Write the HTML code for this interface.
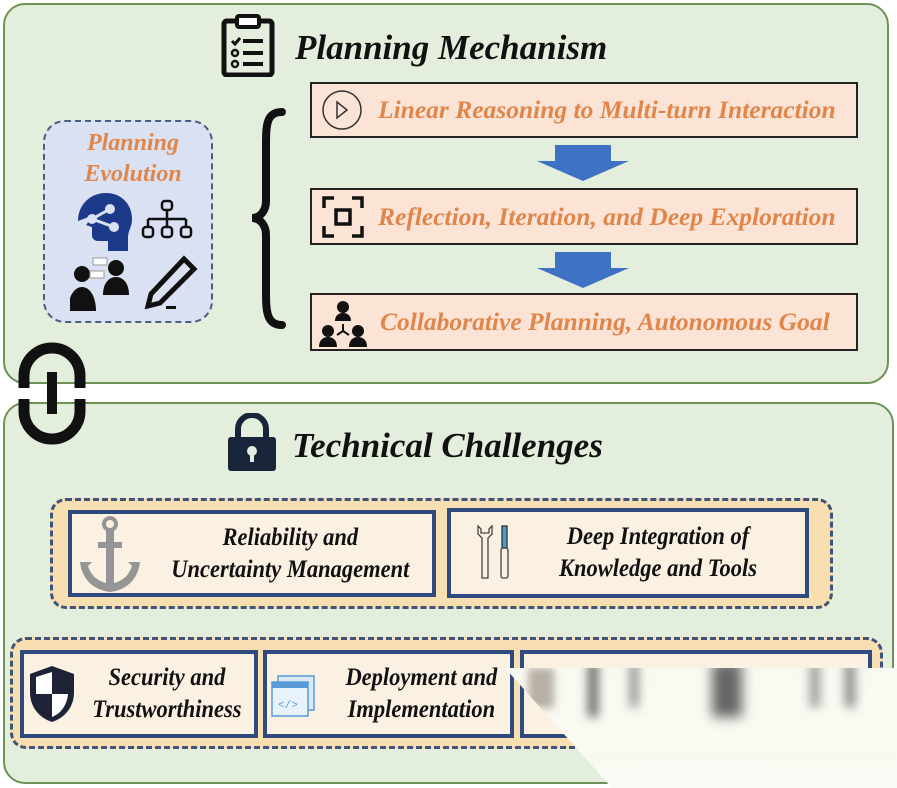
<!DOCTYPE html>
<html><head><meta charset="utf-8"><style>
*{margin:0;padding:0;box-sizing:border-box}
body{width:897px;height:788px;background:#fff;position:relative;overflow:hidden;font-family:"Liberation Serif",serif}
.a{position:absolute}
.panel{background:#e4eedc;border:2px solid #6f9257;border-radius:22px}
.pb{background:#fbe4d6;border:2px solid #222;color:#e0864a;font-style:italic;font-weight:bold;font-size:25.5px;display:flex;align-items:center;white-space:nowrap}
.grp{background:#f8dfb2;border:3px dashed #3e5478;border-radius:16px}
.tb{background:#fbf1e3;border:4px solid #2f4a7c;font-style:italic;font-weight:bold;font-size:25px;color:#111;text-align:center;line-height:32px;display:flex;align-items:center;justify-content:center;white-space:nowrap}
.t{display:inline-block;transform:scaleX(.9)}
h1{position:absolute;font-weight:bold;font-style:italic;font-size:35px;color:#111;white-space:nowrap}
</style></head><body>
<div class="a panel" style="left:3px;top:3px;width:886px;height:381px"></div>
<div class="a panel" style="left:3px;top:402px;width:891px;height:382px"></div>

<svg class="a" style="left:220px;top:13px" width="58" height="64" viewBox="0 0 58 64">
<rect x="4" y="8" width="48" height="54" rx="3" fill="none" stroke="#111" stroke-width="5"/>
<rect x="17" y="3" width="22" height="11" rx="2" fill="#fff" stroke="#111" stroke-width="4"/>
<path d="M12 28l3 3 5-6" stroke="#111" stroke-width="3" fill="none"/>
<rect x="23" y="26" width="20" height="4" fill="#111"/><circle cx="15" cy="40" r="3" fill="none" stroke="#111" stroke-width="2.5"/>
<rect x="23" y="38" width="20" height="4" fill="#111"/><circle cx="15" cy="51" r="3" fill="none" stroke="#111" stroke-width="2.5"/>
<rect x="23" y="49" width="20" height="4" fill="#111"/></svg>
<h1 style="left:295px;top:28px">Planning Mechanism</h1>

<div class="a" style="left:43px;top:120px;width:170px;height:203px;background:#d9e1f2;border:2px dashed #4a5e80;border-radius:22px"></div>
<div class="a" style="left:43px;top:128px;width:180px;text-align:center;color:#e0864a;font-style:italic;font-weight:bold;font-size:24px;line-height:31px">Planning<br>Evolution</div>
<svg class="a" style="left:70px;top:193px" width="130" height="120" viewBox="0 0 130 120">
<path d="M8 28c0-16 12-28 28-28s26 12 26 26c0 8-4 12-4 18v14h-20v-10h-10c-4 0-6-3-6-6v-8l-6-2 8-10z" fill="#1d3a8a"/>
<circle cx="22" cy="26" r="5" fill="#d9e1f2"/><circle cx="40" cy="16" r="5" fill="#d9e1f2"/><circle cx="44" cy="34" r="5" fill="#d9e1f2"/>
<path d="M22 26L40 16M22 26L44 34" stroke="#d9e1f2" stroke-width="3"/>
<g fill="none" stroke="#111" stroke-width="2.5"><rect x="92" y="8" width="10" height="9" rx="3"/><path d="M97 17v9M78 26h38M78 26v8M97 26v8M116 26v8"/><rect x="73" y="34" width="10" height="10" rx="3"/><rect x="92" y="34" width="10" height="10" rx="3"/><rect x="111" y="34" width="10" height="10" rx="3"/></g>
<circle cx="12" cy="81" r="8" fill="#111"/><path d="M-2 118c0-14 6-24 14-24s14 10 14 24z" fill="#111"/>
<circle cx="46" cy="75" r="8" fill="#111"/><path d="M33 102c0-12 6-18 13-18s13 6 13 18z" fill="#111"/>
<rect x="23" y="65" width="14" height="7" fill="#fff" stroke="#999"/><rect x="20" y="78" width="14" height="7" fill="#fff" stroke="#999"/>
<path d="M114 66l10 10-34 34-12 3 3-12z" fill="none" stroke="#111" stroke-width="5"/><rect x="96" y="113" width="10" height="3" fill="#111"/></svg>

<svg class="a" style="left:244px;top:106px" width="45" height="225" viewBox="0 0 45 225">
<path d="M38 6C22 6 22 20 22 40v55c0 10-6 17-14 17c8 0 14 7 14 17v55c0 20 0 35 16 35" fill="none" stroke="#111" stroke-width="8" stroke-linecap="round"/></svg>

<div class="a pb" style="left:310px;top:82px;width:548px;height:56px;padding-left:8px">
<svg width="44" height="44" viewBox="0 0 44 44"><circle cx="22" cy="22" r="19" fill="none" stroke="#333" stroke-width="1.5"/><path d="M17 14l10 8-10 8z" fill="none" stroke="#333" stroke-width="1.5"/></svg>
<span style="margin-left:14px">Linear Reasoning to Multi-turn Interaction</span></div>
<div class="a pb" style="left:310px;top:188px;width:548px;height:57px;padding-left:10px">
<svg width="42" height="42" viewBox="0 0 42 42" fill="none" stroke="#111" stroke-width="3.5"><path d="M2 12V2h10M30 2h10v10M40 30v10H30M12 40H2V30"/><rect x="14" y="14" width="14" height="14"/></svg>
<span style="margin-left:14px">Reflection, Iteration, and Deep Exploration</span></div>
<div class="a pb" style="left:310px;top:293px;width:548px;height:58px;padding-left:6px">
<svg width="50" height="50" viewBox="0 0 50 50" fill="#111"><circle cx="25" cy="10" r="6"/><path d="M17 24c0-6 4-8 8-8s8 2 8 8z"/><circle cx="10" cy="34" r="6"/><path d="M1 50c0-7 4-10 9-10s9 3 9 10z"/><circle cx="40" cy="34" r="6"/><path d="M31 50c0-7 4-10 9-10s9 3 9 10z"/><path d="M25 27v7M25 34l-6 4M25 34l6 4" stroke="#111" stroke-width="2"/></svg>
<span style="margin-left:12px">Collaborative Planning, Autonomous Goal</span></div>

<svg class="a" style="left:535px;top:145px" width="96" height="36"><path d="M20 0h56v16h18L48 36 2 16h18z" fill="#3f72c4"/></svg>
<svg class="a" style="left:535px;top:252px" width="96" height="36"><path d="M20 0h56v16h18L48 36 2 16h18z" fill="#3f72c4"/></svg>

<svg class="a" style="left:14px;top:336px" width="80" height="115" viewBox="0 0 80 115">
<path d="M10 52V40a28 28 0 0 1 56 0v12M10 63v12a28 28 0 0 0 56 0V63" fill="none" stroke="#111" stroke-width="11"/>
<rect x="33" y="36" width="10" height="42" fill="#111"/></svg>

<svg class="a" style="left:226px;top:413px" width="52" height="60" viewBox="0 0 52 60">
<path d="M12 26V16a14 14 0 0 1 28 0v10" fill="none" stroke="#17243a" stroke-width="6"/>
<rect x="2" y="24" width="48" height="34" rx="3" fill="#17243a"/><circle cx="26" cy="38" r="5" fill="#e4eedc"/><rect x="24" y="40" width="4" height="9" fill="#e4eedc"/></svg>
<h1 style="left:292px;top:426px">Technical Challenges</h1>

<div class="a grp" style="left:50px;top:498px;width:783px;height:111px"></div>
<div class="a tb" style="left:68px;top:510px;width:368px;height:87px;padding-left:76px"><span class="t">Reliability and<br>Uncertainty Management</span></div>
<svg class="a" style="left:78px;top:516px" width="62" height="76" viewBox="0 0 62 76" fill="#959595">
<circle cx="32" cy="8" r="6" fill="none" stroke="#959595" stroke-width="4"/><rect x="28" y="14" width="8" height="58"/><rect x="20" y="26" width="24" height="6"/>
<path d="M2 46h12l-4 4c4 12 12 16 22 18 10-2 18-6 22-18l-4-4h12c-2 18-14 28-30 30C16 74 4 64 2 46z"/></svg>
<div class="a tb" style="left:447px;top:508px;width:362px;height:90px;padding-left:60px"><span class="t">Deep Integration of<br>Knowledge and Tools</span></div>
<svg class="a" style="left:476px;top:524px" width="40" height="58" viewBox="0 0 40 58" fill="none" stroke="#444" stroke-width="1.3">
<path d="M2 2v8l4 4v40h6V14l4-4V2l-3 3v4h-8V5z"/><rect x="26" y="2" width="5" height="22" fill="#4aa0c8" stroke="#333"/><rect x="25" y="24" width="7" height="30" rx="2"/></svg>

<div class="a grp" style="left:10px;top:637px;width:873px;height:112px"></div>
<div class="a tb" style="left:20px;top:650px;width:238px;height:88px;padding-left:56px"><span class="t">Security and<br>Trustworthiness</span></div>
<svg class="a" style="left:26px;top:664px" width="52" height="60" viewBox="0 0 52 60">
<path d="M26 2l22 8v18c0 16-10 26-22 30C14 54 4 44 4 28V10z" fill="#1e2236"/>
<path d="M26 8v22H10V13zM26 30h16c-1 12-8 20-16 23z" fill="#fff"/></svg>
<div class="a tb" style="left:263px;top:650px;width:251px;height:88px;padding-left:66px"><span class="t">Deployment and<br>Implementation</span></div>
<svg class="a" style="left:270px;top:674px" width="46" height="44" viewBox="0 0 46 44">
<rect x="8" y="2" width="36" height="34" fill="#dbeaf8" stroke="#5b9bd5" stroke-width="1.5"/><rect x="2" y="8" width="36" height="34" fill="#e8f2fb" stroke="#5b9bd5" stroke-width="1.5"/>
<rect x="2" y="8" width="36" height="6" fill="#5b9bd5"/><text x="8" y="34" font-size="11" fill="#5b9bd5" font-family="Liberation Mono">&lt;/&gt;</text></svg>
<div class="a tb" style="left:520px;top:650px;width:352px;height:88px"></div>

<div class="a" style="left:0;top:0;width:897px;height:788px;clip-path:polygon(505px 668px,897px 668px,897px 788px,612px 788px);background:linear-gradient(#fbf1e0,#fdf8ee 60%,#f8faf3)"></div>
<div class="a" style="left:0;top:0;width:897px;height:788px;clip-path:polygon(505px 668px,897px 668px,897px 788px,612px 788px)">
<div class="a" style="left:528px;top:668px;width:26px;height:40px;background:#b8b0a6;filter:blur(4px)"></div>
<div class="a" style="left:588px;top:662px;width:10px;height:55px;background:#666;filter:blur(5px)"></div>
<div class="a" style="left:630px;top:662px;width:8px;height:45px;background:#888;filter:blur(5px)"></div>
<div class="a" style="left:712px;top:662px;width:30px;height:55px;background:#666;filter:blur(6px)"></div>
<div class="a" style="left:810px;top:662px;width:10px;height:45px;background:#999;filter:blur(5px)"></div>
<div class="a" style="left:845px;top:662px;width:10px;height:45px;background:#888;filter:blur(5px)"></div>
</div>
</body></html>
